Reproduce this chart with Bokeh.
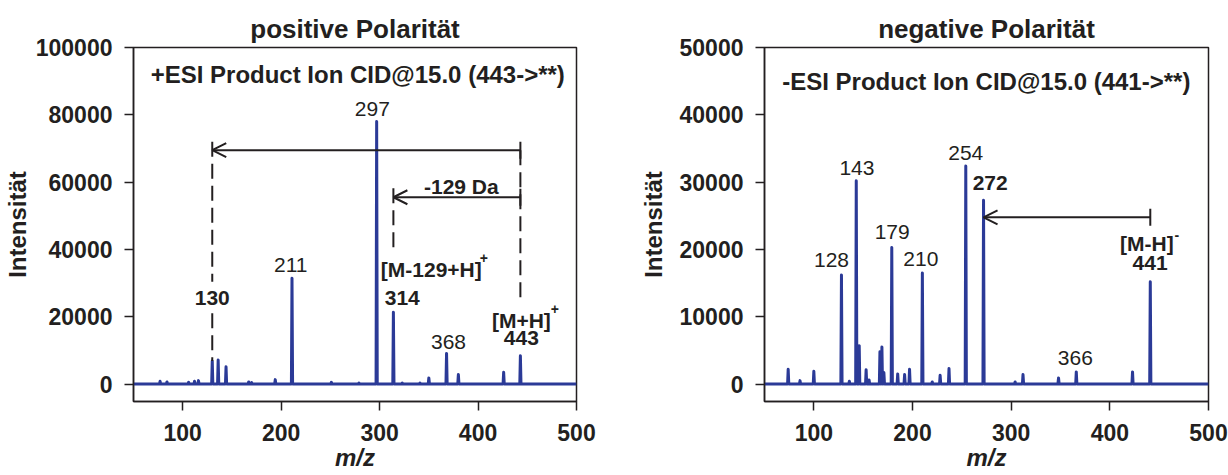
from bokeh.plotting import figure
from bokeh.layouts import row
from bokeh.models import Range1d, FixedTicker, Label, Arrow, OpenHead, TeeHead, BasicTickFormatter
from bokeh.embed import file_html
from bokeh.resources import INLINE

# ---------------- data ----------------
pos_mz = [77, 84, 106, 112, 116, 130, 136, 144, 167, 170, 194, 211, 251, 279, 297, 314, 323, 341, 350, 368, 380, 426, 443]
pos_int = [800, 600, 500, 800, 1000, 6800, 7100, 5100, 600, 400, 1300, 31400, 500, 300, 78000, 21300, 300, 300, 1800, 9100, 2800, 3500, 8400]

neg_mz = [74, 86, 100, 128, 136, 143, 146, 153, 156, 167, 169, 171, 179, 185, 192, 197, 210, 220, 228, 237, 254, 272, 304, 312, 348, 366, 423, 441]
neg_int = [2200, 500, 1900, 16200, 400, 30200, 5700, 2100, 600, 4800, 5500, 1700, 20300, 1500, 1400, 2200, 16500, 300, 1300, 2300, 32400, 27300, 300, 1400, 900, 1800, 1800, 15200]

x_ticks = [100, 200, 300, 400, 500]
pos_y_ticks = [0, 20000, 40000, 60000, 80000, 100000]
neg_y_ticks = [0, 10000, 20000, 30000, 40000, 50000]

pos_title = "positive Polarität"
neg_title = "negative Polarität"
pos_scan = "+ESI Product Ion CID@15.0 (443->**)"
neg_scan = "-ESI Product Ion CID@15.0 (441->**)"
y_label = "Intensität"
x_label = "m/z"

# peak labels: text, x, y, bold
pos_peak_labels = [("297", 292.6, 81700, False), ("211", 209.7, 35400, False), ("368", 370, 12600, False),
                   ("130", 130, 25500, True), ("314", 323, 25500, True), ("443", 444, 13600, True),
                   ("[M-129+H]", 352.5, 33900, True), ("[M+H]", 444, 19000, True), ("-129 Da", 383, 58600, True)]
pos_sups = [("+", 406, 37300), ("+", 478, 22300)]
neg_peak_labels = [("143", 143.7, 32050, False), ("254", 254, 34370, False), ("179", 179.4, 22630, False),
                   ("128", 117.9, 18430, False), ("210", 208.4, 18530, False), ("366", 365, 3910, False),
                   ("272", 278.7, 29820, True), ("441", 440.8, 17930, True), ("[M-H]", 437.6, 20900, True)]
neg_sups = [("-", 468, 22100)]

INK = "#231f20"
BLUE = "#2b3a97"
FONT = "Liberation Sans"
X0, X1 = 50, 500


def stick_line(mz, inten):
    xs, ys = [X0], [0]
    for m, i in sorted(zip(mz, inten)):
        xs += [m - 0.6, m, m + 0.6]
        ys += [0, i, 0]
    xs.append(X1)
    ys.append(0)
    return xs, ys


def make_fig(title, ylo, yhi, yticks, mbl, mbr, ylab_standoff):
    p = figure(width=614, height=475, x_range=Range1d(X0, X1), y_range=Range1d(ylo, yhi),
               output_backend="svg", toolbar_location=None, title=title,
               min_border_left=mbl, min_border_right=mbr, min_border_top=47, min_border_bottom=74)
    p.grid.visible = False
    p.outline_line_color = INK
    p.outline_line_width = 1.5
    p.outline_line_alpha = 1
    p.title.align = "center"
    p.title.text_font = FONT
    p.title.text_font_size = "26px"
    p.title.text_font_style = "bold"
    p.title.text_color = INK
    p.title.standoff = 8
    for ax in (p.xaxis[0], p.yaxis[0]):
        ax.axis_line_color = INK
        ax.axis_line_width = 1.5
        ax.major_tick_line_color = INK
        ax.major_tick_line_width = 1.5
        ax.major_tick_out = 9
        ax.major_tick_in = 0
        ax.minor_tick_line_color = None
        ax.major_label_text_font = FONT
        ax.major_label_text_font_size = "23px"
        ax.major_label_text_font_style = "bold"
        ax.major_label_text_color = INK
        ax.axis_label_text_font = FONT
        ax.axis_label_text_font_size = "24px"
        ax.axis_label_text_color = INK
    p.xaxis.ticker = FixedTicker(ticks=x_ticks)
    p.yaxis.ticker = FixedTicker(ticks=yticks)
    p.yaxis.formatter = BasicTickFormatter(use_scientific=False)
    p.xaxis.major_label_standoff = 13
    p.yaxis.major_label_standoff = 12
    p.yaxis.axis_label = y_label
    p.yaxis.axis_label_text_font_style = "bold"
    p.yaxis.axis_label_standoff = ylab_standoff
    p.xaxis.axis_label = x_label
    p.xaxis.axis_label_text_font_style = "bold italic"
    p.xaxis.axis_label_standoff = 0
    return p


def add_label(p, text, x, y, bold, size="21px"):
    p.add_layout(Label(x=x, y=y, text=text, text_align="center", text_baseline="middle",
                       text_font=FONT, text_font_size=size,
                       text_font_style="bold" if bold else "normal", text_color=INK))


def dashed(p, x, y0, y1):
    p.segment(x0=[x], y0=[y0], x1=[x], y1=[y1], line_color=INK, line_width=2, line_dash="15 7")


def arrow(p, xs, xe, y):
    p.add_layout(Arrow(x_start=xs, y_start=y, x_end=xe, y_end=y, line_color=INK, line_width=2,
                       start=TeeHead(size=17, line_color=INK, line_width=2),
                       end=OpenHead(size=14, line_color=INK, line_width=2)))


# ---------------- positive ----------------
p1 = make_fig(pos_title, -5200, 100000, pos_y_ticks, 131, 38, 2)
xs, ys = stick_line(pos_mz, pos_int)
p1.line(xs, ys, line_color=BLUE, line_width=3, line_join="round")
dashed(p1, 130, 72000, 30400)
dashed(p1, 130, 21000, pos_int[pos_mz.index(130)])
dashed(p1, 314, 58200, 39300)
dashed(p1, 443, 69500, 24500)
arrow(p1, 443, 130, 69500)
arrow(p1, 443, 314, 55500)
add_label(p1, pos_scan, 277.8, 92100, True, "24px")
for t, x, y, b in pos_peak_labels:
    add_label(p1, t, x, y, b)
for t, x, y in pos_sups:
    add_label(p1, t, x, y, True, "14px")

# ---------------- negative ----------------
p2 = make_fig(neg_title, -2600, 50000, neg_y_ticks, 150, 20, 10)
xs, ys = stick_line(neg_mz, neg_int)
p2.line(xs, ys, line_color=BLUE, line_width=3, line_join="round")
arrow(p2, 441, 272, 24770)
add_label(p2, neg_scan, 274.8, 44900, True, "24px")
for t, x, y, b in neg_peak_labels:
    add_label(p2, t, x, y, b)
for t, x, y in neg_sups:
    add_label(p2, t, x, y, True, "14px")

layout = row(p1, p2)
open("out.html", "w").write(file_html(layout, INLINE))
